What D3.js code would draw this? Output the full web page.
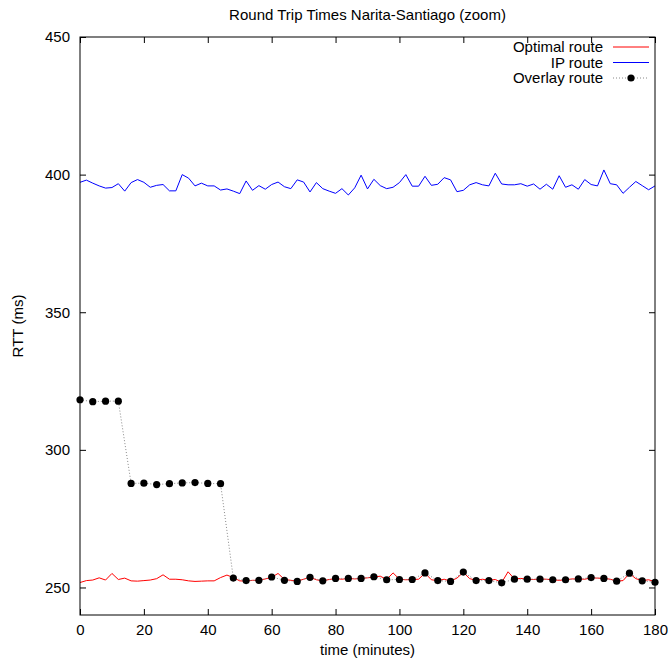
<!DOCTYPE html>
<html>
<head>
<meta charset="utf-8">
<script src="https://cdn.jsdelivr.net/npm/d3@7"></script>
<style>
  body { margin: 0; background: #fff; }
  text { font-family: "Liberation Sans", Arial, Helvetica, sans-serif; fill: #000; }
</style>
</head>
<body>
<script>
// RTT samples, minutes 0..180
var ipMinutes = d3.range(0, 181, 2);
var ipRoute = [397.2, 398.0, 396.9, 395.9, 395.1, 395.3, 396.7, 394.0, 397.1, 398.2,
  397.2, 395.4, 396.1, 396.4, 394.1, 394.1, 400.0, 398.7, 395.9, 396.9,
  395.9, 395.9, 394.4, 394.8, 394.0, 393.1, 397.7, 394.3, 396.0, 394.7,
  396.4, 397.3, 395.6, 394.9, 398.1, 397.3, 393.7, 397.1, 394.9, 394.0,
  393.2, 394.9, 392.6, 395.2, 399.8, 394.8, 398.3, 396.0, 394.9, 395.4,
  397.1, 400.0, 395.8, 395.8, 399.4, 396.1, 396.5, 398.9, 398.1, 393.8,
  394.3, 396.3, 397.1, 396.3, 395.9, 400.5, 396.6, 396.3, 396.3, 396.7,
  395.8, 396.6, 394.7, 396.5, 394.7, 399.6, 395.4, 396.3, 394.7, 398.2,
  396.4, 395.9, 401.7, 396.7, 396.3, 393.2, 395.4, 397.5, 396.0, 394.5, 395.9];
var optimalRoute = [251.8, 252.5, 252.7, 253.5, 252.7, 255.1, 252.9, 253.4, 252.4, 252.3,
  252.5, 252.7, 253.2, 254.6, 253.0, 253.0, 252.8, 252.4, 252.2, 252.3,
  252.4, 252.4, 253.6, 254.5, 253.6, 252.4, 252.3, 252.6, 252.6, 253.1,
  253.7, 255.1, 252.9, 252.6, 252.3, 253.0, 253.7, 252.8, 252.4, 252.9,
  253.2, 253.0, 253.3, 253.1, 253.3, 253.5, 253.8, 254.1, 252.9, 255.3,
  253.0, 252.8, 252.9, 253.0, 255.2, 252.8, 252.5, 253.0, 252.3, 253.4,
  255.5, 253.2, 252.6, 253.0, 252.6, 252.9, 251.8, 255.7, 253.1, 253.3,
  253.0, 252.9, 253.1, 253.0, 252.8, 252.6, 252.8, 253.1, 253.1, 253.0,
  253.5, 253.4, 253.3, 253.0, 252.3, 252.5, 255.1, 253.2, 252.5, 252.8, 252.1];
var overlayMinutes = d3.range(0, 181, 4);
var overlayRoute = [318.2, 317.5, 317.7, 317.7, 287.8, 287.9, 287.4, 287.7, 288.0, 288.1,
  287.8, 287.7, 253.4, 252.5, 252.6, 253.8, 252.6, 252.2, 253.7, 252.4,
  253.3, 253.3, 253.3, 253.9, 252.8, 252.9, 252.9, 255.3, 252.5, 252.2,
  255.6, 252.5, 252.5, 251.7, 253.0, 253.0, 253.0, 252.8, 252.8, 253.1,
  253.6, 253.3, 252.3, 255.2, 252.4, 251.9];
var xTicks = d3.range(0, 181, 20);
var yTicks = [250, 300, 350, 400, 450];
var legendNames = ["Optimal route", "IP route", "Overlay route"];

var margin = {top: 37, right: 13, bottom: 47, left: 80},
    width = 668 - margin.left - margin.right,
    height = 662 - margin.top - margin.bottom;

var svg = d3.select("body").append("svg")
    .attr("width", 668)
    .attr("height", 662);

var g = svg.append("g")
    .attr("transform", "translate(" + margin.left + "," + margin.top + ")");

var x = d3.scaleLinear().domain([0, 180]).range([0, width]);
var y = d3.scaleLinear().domain([240, 450]).range([height, 0]);

// ticks, gnuplot style (inward, mirrored)
var tl = 6;
g.append("g").attr("transform", "translate(0," + height + ")")
    .call(d3.axisBottom(x).tickValues(xTicks).tickSizeInner(-tl).tickSizeOuter(0).tickPadding(9))
    .call(function(a) { a.select(".domain").remove(); });
g.append("g")
    .call(d3.axisTop(x).tickValues(xTicks).tickSizeInner(-tl).tickSizeOuter(0).tickFormat(""))
    .call(function(a) { a.select(".domain").remove(); });
g.append("g")
    .call(d3.axisLeft(y).tickValues(yTicks).tickSizeInner(-tl).tickSizeOuter(0).tickPadding(10))
    .call(function(a) { a.select(".domain").remove(); });
g.append("g").attr("transform", "translate(" + width + ",0)")
    .call(d3.axisRight(y).tickValues(yTicks).tickSizeInner(-tl).tickSizeOuter(0).tickFormat(""))
    .call(function(a) { a.select(".domain").remove(); });

g.selectAll(".tick text").style("font-size", "15px").style("font-family", "Liberation Sans, Arial, sans-serif");
g.selectAll(".tick line").attr("stroke", "#000");

// data lines
var line = d3.line()
    .x(function(d) { return x(d[0]); })
    .y(function(d) { return y(d[1]); });

g.append("path")
    .datum(ipMinutes.map(function(m, i) { return [m, ipRoute[i]]; }))
    .attr("fill", "none").attr("stroke", "#0000ff").attr("stroke-width", 1)
    .attr("d", line);

g.append("path")
    .datum(ipMinutes.map(function(m, i) { return [m, optimalRoute[i]]; }))
    .attr("fill", "none").attr("stroke", "#ff0000").attr("stroke-width", 1)
    .attr("d", line);

var overlay = overlayMinutes.map(function(m, i) { return [m, overlayRoute[i]]; });
g.append("path")
    .datum(overlay)
    .attr("fill", "none").attr("stroke", "#888").attr("stroke-width", 1)
    .attr("stroke-dasharray", "1,2")
    .attr("d", line);

g.selectAll(".dot")
    .data(overlay)
  .enter().append("circle")
    .attr("class", "dot")
    .attr("cx", function(d) { return x(d[0]); })
    .attr("cy", function(d) { return y(d[1]); })
    .attr("r", 3.6)
    .attr("fill", "#000");

// frame
g.append("rect")
    .attr("width", width).attr("height", height)
    .attr("fill", "none").attr("stroke", "#000").attr("stroke-width", 1);

// legend
var legend = g.append("g").attr("transform", "translate(" + (width - 52) + ",10)");
legendNames.forEach(function(name, i) {
  var row = legend.append("g").attr("transform", "translate(0," + (i * 15.5) + ")");
  row.append("text").attr("text-anchor", "end").attr("dy", "0.35em")
      .style("font-size", "15px").text(name);
  if (i < 2) {
    row.append("line").attr("x1", 10).attr("x2", 46)
        .attr("stroke", i === 0 ? "#ff0000" : "#0000ff");
  } else {
    row.append("line").attr("x1", 10).attr("x2", 46)
        .attr("stroke", "#888").attr("stroke-dasharray", "1,2");
    row.append("circle").attr("cx", 28).attr("r", 3.6).attr("fill", "#000");
  }
});

// titles
svg.append("text")
    .attr("x", margin.left + width / 2).attr("y", 20)
    .attr("text-anchor", "middle").style("font-size", "15px")
    .text("Round Trip Times Narita-Santiago (zoom)");

svg.append("text")
    .attr("x", margin.left + width / 2).attr("y", 655)
    .attr("text-anchor", "middle").style("font-size", "15px")
    .text("time (minutes)");

svg.append("text")
    .attr("transform", "translate(23," + (margin.top + height / 2) + ") rotate(-90)")
    .attr("text-anchor", "middle").style("font-size", "15px")
    .text("RTT (ms)");
</script>
</body>
</html>
